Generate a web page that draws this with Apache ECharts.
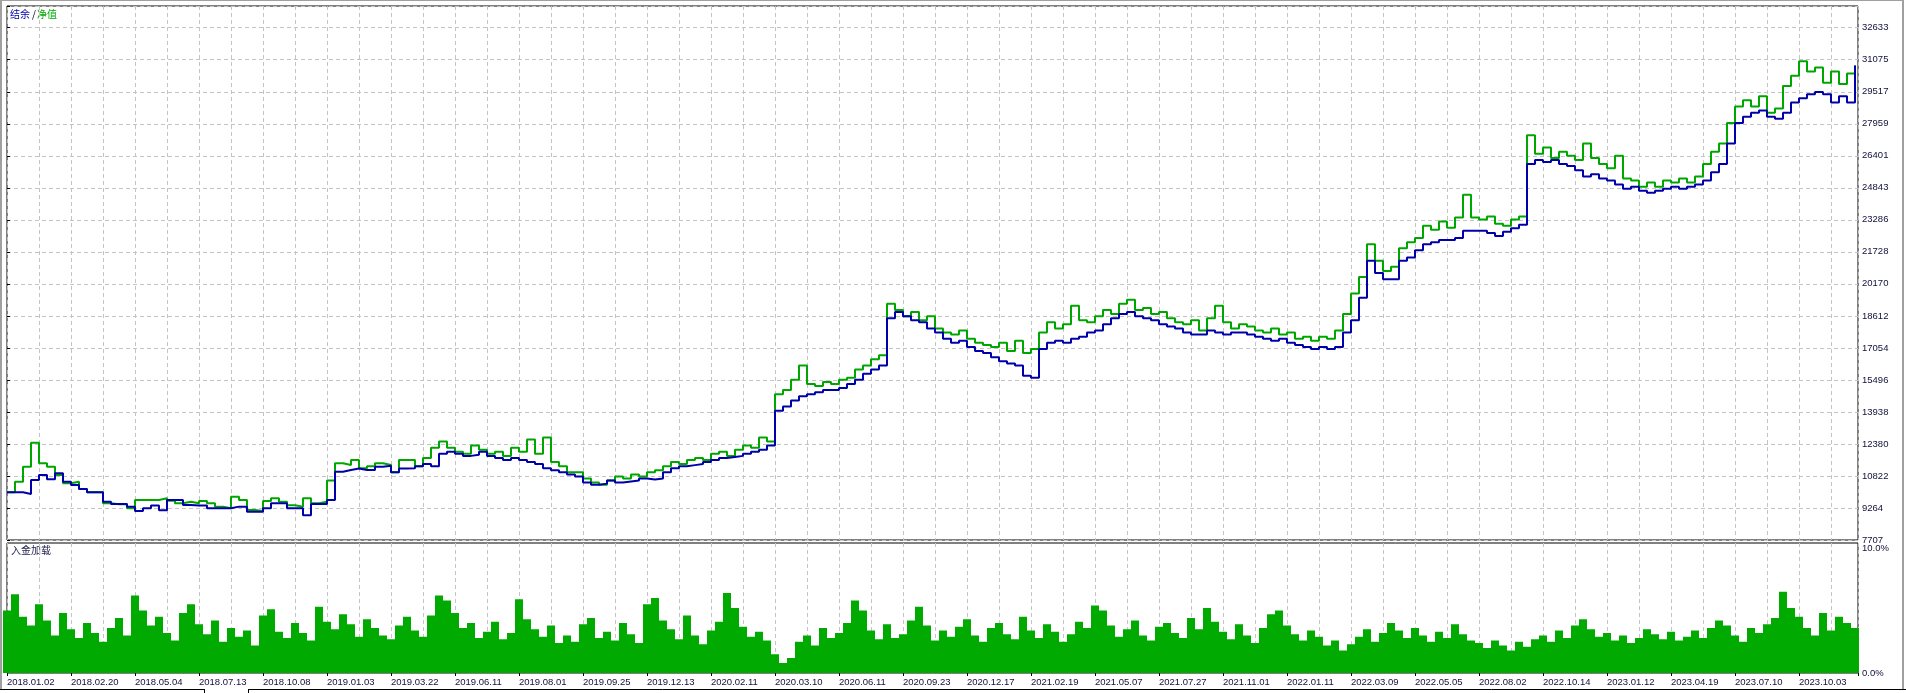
<!DOCTYPE html>
<html><head><meta charset="utf-8">
<script src="https://cdn.jsdelivr.net/npm/echarts@6/dist/echarts.min.js"></script>
<style>html,body{margin:0;padding:0;background:#fff;}#c{width:1906px;height:693px;}</style>
</head><body><div id="c"></div>
<script>
const xLabels = ['2018.01.02','2018.02.20','2018.05.04','2018.07.13','2018.10.08','2019.01.03','2019.03.22','2019.06.11','2019.08.01','2019.09.25','2019.12.13','2020.02.11','2020.03.10','2020.06.11','2020.09.23','2020.12.17','2021.02.19','2021.05.07','2021.07.27','2021.11.01','2022.01.11','2022.03.09','2022.05.05','2022.08.02','2022.10.14','2023.01.12','2023.04.19','2023.07.10','2023.10.03'];
const yTicks = [7707,9264,10822,12380,13938,15496,17054,18612,20170,21728,23286,24843,26401,27959,29517,31075,32633];
const loadTicks = ['0.0%','10.0%'];

const balance = [
10029,10029,9950,10628,10870,10660,10950,10545,10380,10190,
10029,10029,9572,9460,9460,9330,9119,9248,9380,9150,
9654,9654,9410,9380,9380,9248,9248,9248,9330,9330,
9085,9085,9248,9492,9492,9248,9248,8910,9460,9460,
9654,11029,11115,11190,11115,11115,11274,11320,11000,11190,
11200,11300,11400,11300,11900,12000,11900,11800,11850,12000,
11800,11700,11600,11700,11600,11500,11400,11200,11100,11000,
10900,10800,10500,10400,10450,10600,10500,10550,10600,10700,
10650,10700,11000,11200,11300,11350,11400,11500,11600,11700,
11750,11800,11900,12000,12100,12300,14000,14200,14500,14700,
14800,14900,15000,15000,15100,15300,15500,15800,16000,16200,
18500,18800,18600,18400,18300,18000,17800,17500,17300,17400,
17100,16900,16800,16600,16400,16300,16200,15700,15600,17000,
17300,17400,17300,17500,17600,17800,17900,18200,18500,18700,
18800,18600,18500,18400,18200,18100,18000,17800,17700,17700,
17900,17800,17700,17800,17800,17700,17600,17500,17400,17500,
17300,17200,17100,17000,17100,17000,17100,17800,18400,19500,
21300,20700,20400,20400,21300,21450,21800,22100,22200,22300,
22300,22400,22750,22750,22750,22640,22500,22700,22880,23050,
26000,26200,26100,26200,26000,25900,25700,25400,25500,25300,
25200,25000,24800,24900,24700,24600,24700,24800,24900,24800,
24900,25000,25200,25600,26000,27000,28000,28300,28500,28600,
28300,28200,28500,29000,29200,29400,29500,29400,29000,29300,
29000,30800];

const equity = [
10029,10545,11276,12444,11440,11276,10870,10467,10545,10190,
10029,10029,9492,9444,9444,9248,9650,9654,9654,9736,
9620,9500,9572,9500,9600,9500,9330,9248,9817,9650,
9167,9120,9600,9736,9572,9400,9330,9736,9492,9572,
10600,11440,11360,11600,11200,11300,11440,11360,11000,11600,
11600,11300,11700,12200,12500,12200,12000,11900,12300,12100,
11900,12000,11800,12200,12000,12600,11900,12700,11500,11300,
11000,11000,10700,10500,10400,10600,10800,10700,10900,10800,
11000,11100,11300,11500,11400,11600,11700,11600,11900,12000,
11800,12100,12300,12200,12700,12500,14800,15000,15500,16200,
15300,15200,15400,15300,15500,15600,16000,16200,16500,16700,
19200,18900,18600,18800,18400,18600,18000,17800,17700,17900,
17500,17300,17200,17100,17300,16900,17400,16800,17000,17800,
18300,18000,18200,19100,18400,18300,18600,18900,18700,19200,
19400,18900,19000,18700,18800,18500,18300,18200,18400,17900,
18500,19100,18300,18000,18200,18100,17900,17800,18000,17700,
17800,17500,17600,17400,17600,17500,17900,18700,19700,20500,
22100,21300,20800,21000,21900,22200,22400,23000,22800,23200,
22900,23400,24500,23400,23300,23450,23100,23000,23300,23450,
27400,26500,26800,26300,26600,26400,26200,27000,26300,26000,
25800,26400,25300,25200,24900,25100,24900,25200,25100,25300,
25100,25400,26000,26600,27000,28000,28800,29100,28800,29300,
28500,28700,29800,30300,31000,30500,30700,29950,30500,29900,
30400,30800];

const load = [
5.0,6.3,4.5,3.8,5.5,4.2,3.0,4.8, 3.5,2.8,4.0,3.2,2.5,3.6,4.4,3.0,
6.2,5.0,3.8,4.5,3.2,2.6,4.8,5.5, 3.9,3.1,4.2,2.5,3.6,2.9,3.4,2.2,
4.6,5.1,3.3,2.8,4.0,3.2,2.6,5.3, 4.1,3.5,4.7,3.9,2.9,4.3,3.6,3.0,
2.7,3.8,4.5,3.4,2.9,4.6,6.2,5.8, 4.8,3.6,4.0,2.8,3.3,4.1,2.7,3.2,
5.9,4.3,3.5,2.9,3.8,2.4,3.0,2.5, 3.9,4.4,2.8,3.3,2.6,4.0,3.1,2.4,
5.5,6.0,4.2,3.5,2.7,4.6,3.0,2.3, 3.4,4.1,6.4,5.2,3.7,2.9,3.3,2.6,
1.5,0.8,1.2,2.5,3.0,2.2,3.6,2.8, 3.2,4.0,5.8,5.0,3.4,2.7,3.9,2.8,
3.1,4.2,5.3,3.8,2.6,3.4,2.9,3.7, 4.3,3.0,2.5,3.6,4.0,3.1,2.7,4.5,
3.4,2.8,3.9,3.3,2.5,3.1,4.1,3.6, 5.4,5.0,3.8,2.9,3.5,4.2,3.0,2.6,
3.7,4.0,3.2,2.8,4.4,3.5,5.2,4.1, 3.3,2.7,3.9,3.0,2.4,3.6,4.7,5.0,
3.8,3.1,2.6,3.4,2.9,2.2,2.6,1.8, 2.3,2.9,3.5,2.5,3.2,4.0,3.4,2.8,
3.6,3.0,2.5,3.3,2.8,3.9,3.1,2.6, 2.4,2.0,2.6,2.2,1.8,2.5,2.1,2.7,
3.0,2.5,3.4,2.8,3.8,4.3,3.5,2.9, 3.2,2.6,3.0,2.4,2.8,3.5,3.1,2.7,
3.3,2.6,2.9,3.4,2.8,3.6,4.2,3.8, 3.0,2.5,3.6,3.2,3.9,4.4,6.5,5.2,
4.5,3.6,3.0,4.8,3.4,4.5,4.0,3.6];

const yMin = yTicks[0];
const yStep = (yTicks[yTicks.length - 1] - yTicks[0]) / (yTicks.length - 1);
const PER_LABEL = 8;
const xMax = 231.375;
const BLUE = '#0000aa', GREEN = '#00a600', TXT = '#10103a';
const FONT = '"Liberation Sans", Arial, sans-serif';
const CJK = '"Noto Sans CJK SC", sans-serif';
const dashed = {show: true, lineStyle: {color: '#c4c4c4', width: 1, type: [4, 3]}};

const chart = echarts.init(document.getElementById('c'), null, {renderer: 'canvas'});
chart.setOption({
  animation: false,
  backgroundColor: '#ffffff',
  grid: [
    {left: 7, top: 6, width: 1851, height: 534, show: true, borderColor: '#000', borderWidth: 1, backgroundColor: '#fff'},
    {left: 7, top: 543, width: 1851, height: 130, show: true, borderColor: '#000', borderWidth: 1, backgroundColor: '#fff'}
  ],
  xAxis: [
    {type: 'value', gridIndex: 0, min: 0, max: xMax, interval: 4,
     axisLine: {show: false}, axisTick: {show: false}, axisLabel: {show: false}, splitLine: dashed},
    {type: 'value', gridIndex: 1, min: 0, max: xMax, interval: 4,
     axisLine: {show: false}, axisTick: {show: false}, axisLabel: {show: false}, splitLine: dashed},
    {type: 'value', gridIndex: 1, min: 0, max: xMax, interval: PER_LABEL, position: 'bottom',
     axisLine: {show: false}, splitLine: {show: false},
     axisTick: {show: true, length: 3, lineStyle: {color: '#000'}},
     axisLabel: {show: true, margin: 4, align: 'left', color: TXT, fontFamily: FONT, fontSize: 9.5,
       formatter: v => (v % PER_LABEL === 0 && xLabels[v / PER_LABEL]) ? xLabels[v / PER_LABEL] : ''}}
  ],
  yAxis: [
    {type: 'value', gridIndex: 0, position: 'right', min: yMin, max: 33690, interval: yStep,
     axisLine: {show: false}, axisTick: {show: true, length: 3, lineStyle: {color: '#000'}},
     splitLine: dashed,
     axisLabel: {margin: 4, color: TXT, fontFamily: FONT, fontSize: 9.5, align: 'left',
       formatter: v => { const k = (v - yMin) / yStep; const r = Math.round(k);
         return (Math.abs(k - r) < 1e-6 && yTicks[r] !== undefined) ? String(yTicks[r]) : ''; }}},
    {type: 'value', gridIndex: 1, position: 'right', min: 0, max: 10.4, interval: 10,
     axisLine: {show: false}, axisTick: {show: false}, splitLine: {show: false},
     axisLabel: {margin: 4, color: TXT, fontFamily: FONT, fontSize: 9.5, align: 'left',
       formatter: v => v === 0 ? loadTicks[0] : (v === 10 ? loadTicks[1] : '')}}
  ],
  series: [
    {type: 'line', name: '净值', xAxisIndex: 0, yAxisIndex: 0, step: 'end', symbol: 'none',
     lineStyle: {color: GREEN, width: 2}, data: equity.map((v, i) => [i, v])},
    {type: 'line', name: '结余', xAxisIndex: 0, yAxisIndex: 0, step: 'end', symbol: 'none',
     lineStyle: {color: BLUE, width: 2}, data: balance.map((v, i) => [i, v])},
    {type: 'bar', name: '入金加载', xAxisIndex: 1, yAxisIndex: 1, barWidth: 8,
     itemStyle: {color: '#00aa00'}, data: load.map((v, i) => [i, v])}
  ],
  graphic: [
    {type: 'text', left: 10, top: 9, style: {text: '结余', fill: BLUE, font: '10px ' + CJK}},
    {type: 'text', left: 32, top: 9, style: {text: '/', fill: '#000', font: '10px ' + CJK}},
    {type: 'text', left: 37, top: 9, style: {text: '净值', fill: GREEN, font: '10px ' + CJK}},
    {type: 'text', left: 11, top: 545, style: {text: '入金加载', fill: '#202050', font: '10px ' + CJK}},
    {type: 'rect', shape: {x: 0, y: 0, width: 2, height: 689}, style: {fill: '#a0a0a0'}},
    {type: 'rect', shape: {x: 0, y: 0, width: 1904, height: 1}, style: {fill: '#a0a0a0'}},
    {type: 'rect', shape: {x: 1902, y: 0, width: 2, height: 689}, style: {fill: '#a0a0a0'}},
    {type: 'line', shape: {x1: 0, y1: 689.5, x2: 204, y2: 689.5}, style: {stroke: '#000', lineWidth: 1}},
    {type: 'line', shape: {x1: 204.5, y1: 689, x2: 204.5, y2: 693}, style: {stroke: '#000', lineWidth: 1}},
    {type: 'line', shape: {x1: 248.5, y1: 689, x2: 248.5, y2: 693}, style: {stroke: '#000', lineWidth: 1}},
    {type: 'line', shape: {x1: 248, y1: 689.5, x2: 1906, y2: 689.5}, style: {stroke: '#000', lineWidth: 1}}
  ]
});
</script></body></html>
